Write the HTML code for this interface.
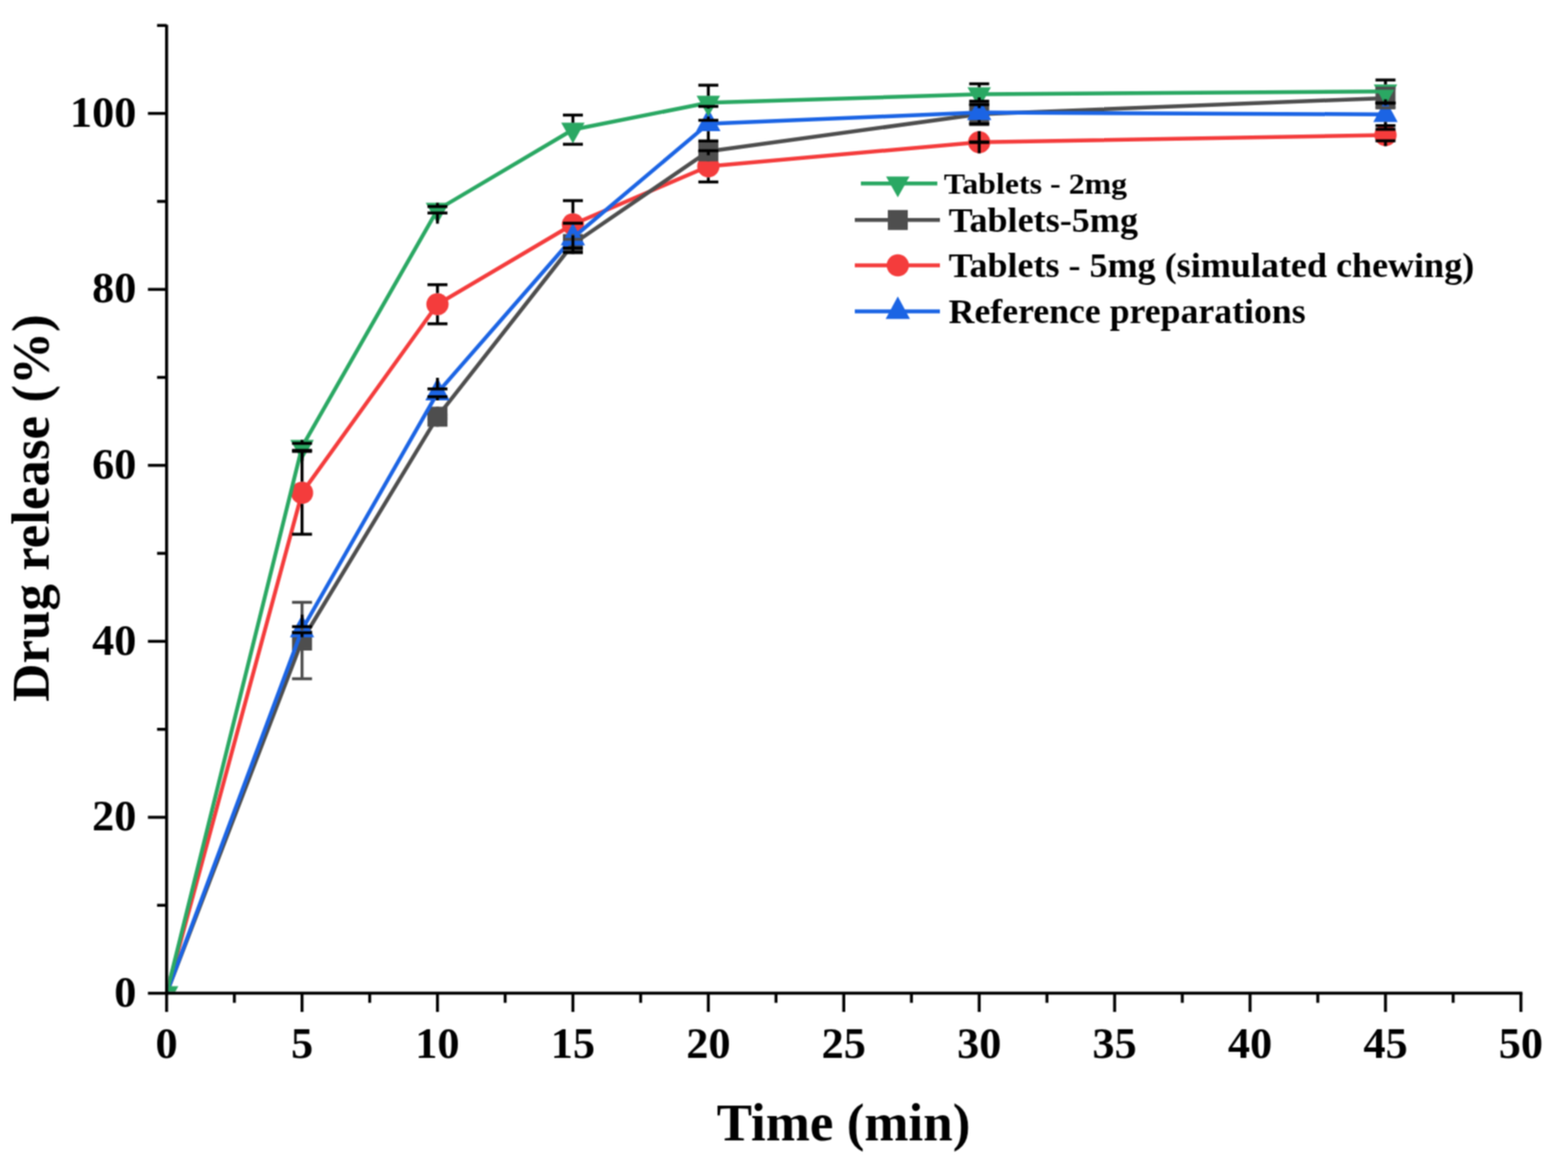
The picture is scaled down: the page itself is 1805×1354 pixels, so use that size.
<!DOCTYPE html>
<html><head><meta charset="utf-8"><title>Drug release</title>
<style>
html,body{margin:0;padding:0;background:#fff;}
svg{display:block;}
text{font-family:"Liberation Serif","Times New Roman",serif;font-weight:bold;fill:#000;}
</style></head>
<body>
<svg width="1805" height="1354" viewBox="0 0 1805 1354">
<defs><filter id="soft" x="0" y="0" width="1805" height="1354" filterUnits="userSpaceOnUse" color-interpolation-filters="sRGB"><feConvolveMatrix order="3" kernelMatrix="1 2 1 2 4 2 1 2 1" divisor="16" edgeMode="duplicate"/></filter><clipPath id="pc"><rect x="193.6" y="0" width="1600" height="1141.8"/></clipPath></defs>
<g filter="url(#soft)">
<rect width="1805" height="1354" fill="#fff"/>
<polyline points="191.8,1143.6 347.7,567.4 503.6,350.3 659.5,258.3 815.4,191.5 1127.2,163.7 1594.9,155.5" fill="none" stroke="#f43c3c" stroke-width="4.5" stroke-linejoin="round" clip-path="url(#pc)"/>
<circle cx="347.7" cy="567.4" r="12.8" fill="#f43c3c"/>
<circle cx="503.6" cy="350.3" r="12.8" fill="#f43c3c"/>
<circle cx="659.5" cy="258.3" r="12.8" fill="#f43c3c"/>
<circle cx="815.4" cy="191.5" r="12.8" fill="#f43c3c"/>
<circle cx="1127.2" cy="163.7" r="12.8" fill="#f43c3c"/>
<circle cx="1594.9" cy="155.5" r="12.8" fill="#f43c3c"/>
<polyline points="191.8,1143.6 347.7,737.5 503.6,479.8 659.5,281.0 815.4,174.2 1127.2,131.5 1594.9,112.9" fill="none" stroke="#4e4e4e" stroke-width="4.5" stroke-linejoin="round" clip-path="url(#pc)"/>
<rect x="336.2" y="726.0" width="23.0" height="23.0" fill="#4e4e4e"/>
<rect x="492.1" y="468.3" width="23.0" height="23.0" fill="#4e4e4e"/>
<rect x="648.0" y="269.5" width="23.0" height="23.0" fill="#4e4e4e"/>
<rect x="803.9" y="162.7" width="23.0" height="23.0" fill="#4e4e4e"/>
<rect x="1115.7" y="120.0" width="23.0" height="23.0" fill="#4e4e4e"/>
<rect x="1583.4" y="101.4" width="23.0" height="23.0" fill="#4e4e4e"/>
<polyline points="191.8,1143.6 347.7,725.0 503.6,452.3 659.5,273.8 815.4,142.4 1127.2,129.5 1594.9,131.7" fill="none" stroke="#1b64e4" stroke-width="4.5" stroke-linejoin="round" clip-path="url(#pc)"/>
<polygon points="347.7,707.7 361.7,733.7 333.7,733.7" fill="#1b64e4"/>
<polygon points="503.6,435.0 517.6,461.0 489.6,461.0" fill="#1b64e4"/>
<polygon points="659.5,256.5 673.5,282.5 645.5,282.5" fill="#1b64e4"/>
<polygon points="815.4,125.1 829.4,151.1 801.4,151.1" fill="#1b64e4"/>
<polygon points="1127.2,112.2 1141.2,138.2 1113.2,138.2" fill="#1b64e4"/>
<polygon points="1594.9,114.4 1608.9,140.4 1580.9,140.4" fill="#1b64e4"/>
<polyline points="191.8,1143.6 347.7,514.5 503.6,241.5 659.5,149.3 815.4,118.3 1127.2,108.5 1594.9,105.3" fill="none" stroke="#2aa863" stroke-width="4.5" stroke-linejoin="round" clip-path="url(#pc)"/>
<g clip-path="url(#pc)"><polygon points="178.3,1135.6 205.3,1135.6 191.8,1159.6" fill="#2aa863"/></g>
<polygon points="334.2,506.5 361.2,506.5 347.7,530.5" fill="#2aa863"/>
<polygon points="490.1,233.5 517.1,233.5 503.6,257.5" fill="#2aa863"/>
<polygon points="646.0,141.3 673.0,141.3 659.5,165.3" fill="#2aa863"/>
<polygon points="801.9,110.3 828.9,110.3 815.4,134.3" fill="#2aa863"/>
<polygon points="1113.7,100.5 1140.7,100.5 1127.2,124.5" fill="#2aa863"/>
<polygon points="1581.4,97.3 1608.4,97.3 1594.9,121.3" fill="#2aa863"/>
<line x1="347.7" y1="693.5" x2="347.7" y2="726.0" stroke="#4e4e4e" stroke-width="3.4"/><line x1="347.7" y1="749.0" x2="347.7" y2="781.5" stroke="#4e4e4e" stroke-width="3.4"/><line x1="336.2" y1="693.5" x2="359.2" y2="693.5" stroke="#4e4e4e" stroke-width="3.4"/><line x1="336.2" y1="781.5" x2="359.2" y2="781.5" stroke="#4e4e4e" stroke-width="3.4"/>
<line x1="503.6" y1="477.8" x2="503.6" y2="468.3" stroke="#4e4e4e" stroke-width="3.4"/><line x1="503.6" y1="491.3" x2="503.6" y2="481.8" stroke="#4e4e4e" stroke-width="3.4"/><line x1="492.1" y1="477.8" x2="515.1" y2="477.8" stroke="#4e4e4e" stroke-width="3.4"/><line x1="492.1" y1="481.8" x2="515.1" y2="481.8" stroke="#4e4e4e" stroke-width="3.4"/>
<line x1="659.5" y1="275.5" x2="659.5" y2="269.5" stroke="#4e4e4e" stroke-width="3.4"/><line x1="659.5" y1="292.5" x2="659.5" y2="286.5" stroke="#4e4e4e" stroke-width="3.4"/><line x1="648.0" y1="275.5" x2="671.0" y2="275.5" stroke="#4e4e4e" stroke-width="3.4"/><line x1="648.0" y1="286.5" x2="671.0" y2="286.5" stroke="#4e4e4e" stroke-width="3.4"/>
<line x1="815.4" y1="173.9" x2="815.4" y2="162.7" stroke="#4e4e4e" stroke-width="3.4"/><line x1="815.4" y1="185.7" x2="815.4" y2="174.5" stroke="#4e4e4e" stroke-width="3.4"/><line x1="803.9" y1="173.9" x2="826.9" y2="173.9" stroke="#4e4e4e" stroke-width="3.4"/><line x1="803.9" y1="174.5" x2="826.9" y2="174.5" stroke="#4e4e4e" stroke-width="3.4"/>
<line x1="1127.2" y1="119.5" x2="1127.2" y2="120.0" stroke="#4e4e4e" stroke-width="3.4"/><line x1="1127.2" y1="143.0" x2="1127.2" y2="143.5" stroke="#4e4e4e" stroke-width="3.4"/><line x1="1115.7" y1="119.5" x2="1138.7" y2="119.5" stroke="#4e4e4e" stroke-width="3.4"/><line x1="1115.7" y1="143.5" x2="1138.7" y2="143.5" stroke="#4e4e4e" stroke-width="3.4"/>
<line x1="1594.9" y1="101.6" x2="1594.9" y2="101.4" stroke="#4e4e4e" stroke-width="3.4"/><line x1="1594.9" y1="124.4" x2="1594.9" y2="124.2" stroke="#4e4e4e" stroke-width="3.4"/><line x1="1583.4" y1="101.6" x2="1606.4" y2="101.6" stroke="#4e4e4e" stroke-width="3.4"/><line x1="1583.4" y1="124.2" x2="1606.4" y2="124.2" stroke="#4e4e4e" stroke-width="3.4"/>
<line x1="347.7" y1="519.7" x2="347.7" y2="554.6" stroke="#000" stroke-width="3.4"/><line x1="347.7" y1="580.2" x2="347.7" y2="615.1" stroke="#000" stroke-width="3.4"/><line x1="336.2" y1="519.7" x2="359.2" y2="519.7" stroke="#000" stroke-width="3.4"/><line x1="336.2" y1="615.1" x2="359.2" y2="615.1" stroke="#000" stroke-width="3.4"/>
<line x1="503.6" y1="327.8" x2="503.6" y2="337.5" stroke="#000" stroke-width="3.4"/><line x1="503.6" y1="363.1" x2="503.6" y2="372.8" stroke="#000" stroke-width="3.4"/><line x1="492.1" y1="327.8" x2="515.1" y2="327.8" stroke="#000" stroke-width="3.4"/><line x1="492.1" y1="372.8" x2="515.1" y2="372.8" stroke="#000" stroke-width="3.4"/>
<line x1="659.5" y1="231.0" x2="659.5" y2="245.5" stroke="#000" stroke-width="3.4"/><line x1="659.5" y1="271.1" x2="659.5" y2="285.6" stroke="#000" stroke-width="3.4"/><line x1="648.0" y1="231.0" x2="671.0" y2="231.0" stroke="#000" stroke-width="3.4"/><line x1="648.0" y1="285.6" x2="671.0" y2="285.6" stroke="#000" stroke-width="3.4"/>
<line x1="815.4" y1="173.5" x2="815.4" y2="178.7" stroke="#000" stroke-width="3.4"/><line x1="815.4" y1="204.3" x2="815.4" y2="209.5" stroke="#000" stroke-width="3.4"/><line x1="803.9" y1="173.5" x2="826.9" y2="173.5" stroke="#000" stroke-width="3.4"/><line x1="803.9" y1="209.5" x2="826.9" y2="209.5" stroke="#000" stroke-width="3.4"/>
<line x1="1127.2" y1="163.4" x2="1127.2" y2="150.9" stroke="#000" stroke-width="3.4"/><line x1="1127.2" y1="176.5" x2="1127.2" y2="164.0" stroke="#000" stroke-width="3.4"/><line x1="1115.7" y1="163.4" x2="1138.7" y2="163.4" stroke="#000" stroke-width="3.4"/><line x1="1115.7" y1="164.0" x2="1138.7" y2="164.0" stroke="#000" stroke-width="3.4"/>
<line x1="1594.9" y1="148.9" x2="1594.9" y2="142.7" stroke="#000" stroke-width="3.4"/><line x1="1594.9" y1="168.3" x2="1594.9" y2="162.1" stroke="#000" stroke-width="3.4"/><line x1="1583.4" y1="148.9" x2="1606.4" y2="148.9" stroke="#000" stroke-width="3.4"/><line x1="1583.4" y1="162.1" x2="1606.4" y2="162.1" stroke="#000" stroke-width="3.4"/>
<line x1="347.7" y1="721.5" x2="347.7" y2="707.7" stroke="#000" stroke-width="3.4"/><line x1="347.7" y1="733.7" x2="347.7" y2="728.5" stroke="#000" stroke-width="3.4"/><line x1="336.2" y1="721.5" x2="359.2" y2="721.5" stroke="#000" stroke-width="3.4"/><line x1="336.2" y1="728.5" x2="359.2" y2="728.5" stroke="#000" stroke-width="3.4"/>
<line x1="503.6" y1="447.8" x2="503.6" y2="435.0" stroke="#000" stroke-width="3.4"/><line x1="503.6" y1="461.0" x2="503.6" y2="456.8" stroke="#000" stroke-width="3.4"/><line x1="492.1" y1="447.8" x2="515.1" y2="447.8" stroke="#000" stroke-width="3.4"/><line x1="492.1" y1="456.8" x2="515.1" y2="456.8" stroke="#000" stroke-width="3.4"/>
<line x1="659.5" y1="257.0" x2="659.5" y2="256.5" stroke="#000" stroke-width="3.4"/><line x1="659.5" y1="282.5" x2="659.5" y2="290.6" stroke="#000" stroke-width="3.4"/><line x1="648.0" y1="257.0" x2="671.0" y2="257.0" stroke="#000" stroke-width="3.4"/><line x1="648.0" y1="290.6" x2="671.0" y2="290.6" stroke="#000" stroke-width="3.4"/>
<line x1="815.4" y1="122.5" x2="815.4" y2="125.1" stroke="#000" stroke-width="3.4"/><line x1="815.4" y1="151.1" x2="815.4" y2="162.3" stroke="#000" stroke-width="3.4"/><line x1="803.9" y1="122.5" x2="826.9" y2="122.5" stroke="#000" stroke-width="3.4"/><line x1="803.9" y1="162.3" x2="826.9" y2="162.3" stroke="#000" stroke-width="3.4"/>
<line x1="1127.2" y1="116.5" x2="1127.2" y2="112.2" stroke="#000" stroke-width="3.4"/><line x1="1127.2" y1="138.2" x2="1127.2" y2="142.5" stroke="#000" stroke-width="3.4"/><line x1="1115.7" y1="116.5" x2="1138.7" y2="116.5" stroke="#000" stroke-width="3.4"/><line x1="1115.7" y1="142.5" x2="1138.7" y2="142.5" stroke="#000" stroke-width="3.4"/>
<line x1="1594.9" y1="118.7" x2="1594.9" y2="114.4" stroke="#000" stroke-width="3.4"/><line x1="1594.9" y1="140.4" x2="1594.9" y2="144.7" stroke="#000" stroke-width="3.4"/><line x1="1583.4" y1="118.7" x2="1606.4" y2="118.7" stroke="#000" stroke-width="3.4"/><line x1="1583.4" y1="144.7" x2="1606.4" y2="144.7" stroke="#000" stroke-width="3.4"/>
<line x1="347.7" y1="510.5" x2="347.7" y2="506.5" stroke="#000" stroke-width="3.4"/><line x1="347.7" y1="530.5" x2="347.7" y2="518.5" stroke="#000" stroke-width="3.4"/><line x1="336.2" y1="510.5" x2="359.2" y2="510.5" stroke="#000" stroke-width="3.4"/><line x1="336.2" y1="518.5" x2="359.2" y2="518.5" stroke="#000" stroke-width="3.4"/>
<line x1="503.6" y1="237.8" x2="503.6" y2="233.5" stroke="#000" stroke-width="3.4"/><line x1="503.6" y1="257.5" x2="503.6" y2="245.2" stroke="#000" stroke-width="3.4"/><line x1="492.1" y1="237.8" x2="515.1" y2="237.8" stroke="#000" stroke-width="3.4"/><line x1="492.1" y1="245.2" x2="515.1" y2="245.2" stroke="#000" stroke-width="3.4"/>
<line x1="659.5" y1="132.5" x2="659.5" y2="141.3" stroke="#000" stroke-width="3.4"/><line x1="659.5" y1="165.3" x2="659.5" y2="166.1" stroke="#000" stroke-width="3.4"/><line x1="648.0" y1="132.5" x2="671.0" y2="132.5" stroke="#000" stroke-width="3.4"/><line x1="648.0" y1="166.1" x2="671.0" y2="166.1" stroke="#000" stroke-width="3.4"/>
<line x1="815.4" y1="98.1" x2="815.4" y2="110.3" stroke="#000" stroke-width="3.4"/><line x1="815.4" y1="134.3" x2="815.4" y2="138.5" stroke="#000" stroke-width="3.4"/><line x1="803.9" y1="98.1" x2="826.9" y2="98.1" stroke="#000" stroke-width="3.4"/><line x1="803.9" y1="138.5" x2="826.9" y2="138.5" stroke="#000" stroke-width="3.4"/>
<line x1="1127.2" y1="96.5" x2="1127.2" y2="100.5" stroke="#000" stroke-width="3.4"/><line x1="1127.2" y1="124.5" x2="1127.2" y2="120.5" stroke="#000" stroke-width="3.4"/><line x1="1115.7" y1="96.5" x2="1138.7" y2="96.5" stroke="#000" stroke-width="3.4"/><line x1="1115.7" y1="120.5" x2="1138.7" y2="120.5" stroke="#000" stroke-width="3.4"/>
<line x1="1594.9" y1="92.1" x2="1594.9" y2="97.3" stroke="#000" stroke-width="3.4"/><line x1="1594.9" y1="121.3" x2="1594.9" y2="118.5" stroke="#000" stroke-width="3.4"/><line x1="1583.4" y1="92.1" x2="1606.4" y2="92.1" stroke="#000" stroke-width="3.4"/><line x1="1583.4" y1="118.5" x2="1606.4" y2="118.5" stroke="#000" stroke-width="3.4"/>
<line x1="191.8" y1="28.5" x2="191.8" y2="1145.3" stroke="#000" stroke-width="3.5"/>
<line x1="190.1" y1="1143.6" x2="1752.5" y2="1143.6" stroke="#000" stroke-width="3.5"/>
<line x1="170.3" y1="1143.6" x2="191.8" y2="1143.6" stroke="#000" stroke-width="3.4"/>
<line x1="180.8" y1="1042.3" x2="191.8" y2="1042.3" stroke="#000" stroke-width="3.4"/>
<line x1="170.3" y1="941.0" x2="191.8" y2="941.0" stroke="#000" stroke-width="3.4"/>
<line x1="180.8" y1="839.7" x2="191.8" y2="839.7" stroke="#000" stroke-width="3.4"/>
<line x1="170.3" y1="738.4" x2="191.8" y2="738.4" stroke="#000" stroke-width="3.4"/>
<line x1="180.8" y1="637.1" x2="191.8" y2="637.1" stroke="#000" stroke-width="3.4"/>
<line x1="170.3" y1="535.8" x2="191.8" y2="535.8" stroke="#000" stroke-width="3.4"/>
<line x1="180.8" y1="434.5" x2="191.8" y2="434.5" stroke="#000" stroke-width="3.4"/>
<line x1="170.3" y1="333.2" x2="191.8" y2="333.2" stroke="#000" stroke-width="3.4"/>
<line x1="180.8" y1="231.9" x2="191.8" y2="231.9" stroke="#000" stroke-width="3.4"/>
<line x1="170.3" y1="130.6" x2="191.8" y2="130.6" stroke="#000" stroke-width="3.4"/>
<line x1="180.8" y1="29.3" x2="191.8" y2="29.3" stroke="#000" stroke-width="3.4"/>
<line x1="191.8" y1="1143.6" x2="191.8" y2="1165.1" stroke="#000" stroke-width="3.4"/>
<line x1="347.7" y1="1143.6" x2="347.7" y2="1165.1" stroke="#000" stroke-width="3.4"/>
<line x1="503.6" y1="1143.6" x2="503.6" y2="1165.1" stroke="#000" stroke-width="3.4"/>
<line x1="659.5" y1="1143.6" x2="659.5" y2="1165.1" stroke="#000" stroke-width="3.4"/>
<line x1="815.4" y1="1143.6" x2="815.4" y2="1165.1" stroke="#000" stroke-width="3.4"/>
<line x1="971.3" y1="1143.6" x2="971.3" y2="1165.1" stroke="#000" stroke-width="3.4"/>
<line x1="1127.2" y1="1143.6" x2="1127.2" y2="1165.1" stroke="#000" stroke-width="3.4"/>
<line x1="1283.1" y1="1143.6" x2="1283.1" y2="1165.1" stroke="#000" stroke-width="3.4"/>
<line x1="1439.0" y1="1143.6" x2="1439.0" y2="1165.1" stroke="#000" stroke-width="3.4"/>
<line x1="1594.9" y1="1143.6" x2="1594.9" y2="1165.1" stroke="#000" stroke-width="3.4"/>
<line x1="1750.8" y1="1143.6" x2="1750.8" y2="1165.1" stroke="#000" stroke-width="3.4"/>
<line x1="269.8" y1="1143.6" x2="269.8" y2="1154.6" stroke="#000" stroke-width="3.4"/>
<line x1="425.6" y1="1143.6" x2="425.6" y2="1154.6" stroke="#000" stroke-width="3.4"/>
<line x1="581.5" y1="1143.6" x2="581.5" y2="1154.6" stroke="#000" stroke-width="3.4"/>
<line x1="737.5" y1="1143.6" x2="737.5" y2="1154.6" stroke="#000" stroke-width="3.4"/>
<line x1="893.3" y1="1143.6" x2="893.3" y2="1154.6" stroke="#000" stroke-width="3.4"/>
<line x1="1049.2" y1="1143.6" x2="1049.2" y2="1154.6" stroke="#000" stroke-width="3.4"/>
<line x1="1205.2" y1="1143.6" x2="1205.2" y2="1154.6" stroke="#000" stroke-width="3.4"/>
<line x1="1361.0" y1="1143.6" x2="1361.0" y2="1154.6" stroke="#000" stroke-width="3.4"/>
<line x1="1517.0" y1="1143.6" x2="1517.0" y2="1154.6" stroke="#000" stroke-width="3.4"/>
<line x1="1672.8" y1="1143.6" x2="1672.8" y2="1154.6" stroke="#000" stroke-width="3.4"/>
<text x="157" y="1158.8" text-anchor="end" font-size="51">0</text>
<text x="157" y="956.2" text-anchor="end" font-size="51">20</text>
<text x="157" y="753.6" text-anchor="end" font-size="51">40</text>
<text x="157" y="551.0" text-anchor="end" font-size="51">60</text>
<text x="157" y="348.4" text-anchor="end" font-size="51">80</text>
<text x="157" y="145.8" text-anchor="end" font-size="51">100</text>
<text x="191.8" y="1217.8" text-anchor="middle" font-size="51">0</text>
<text x="347.7" y="1217.8" text-anchor="middle" font-size="51">5</text>
<text x="503.6" y="1217.8" text-anchor="middle" font-size="51">10</text>
<text x="659.5" y="1217.8" text-anchor="middle" font-size="51">15</text>
<text x="815.4" y="1217.8" text-anchor="middle" font-size="51">20</text>
<text x="971.3" y="1217.8" text-anchor="middle" font-size="51">25</text>
<text x="1127.2" y="1217.8" text-anchor="middle" font-size="51">30</text>
<text x="1283.1" y="1217.8" text-anchor="middle" font-size="51">35</text>
<text x="1439.0" y="1217.8" text-anchor="middle" font-size="51">40</text>
<text x="1594.9" y="1217.8" text-anchor="middle" font-size="51">45</text>
<text x="1750.8" y="1217.8" text-anchor="middle" font-size="51">50</text>
<text x="971" y="1312.7" text-anchor="middle" font-size="61">Time (min)</text>
<text transform="translate(56,585) rotate(-90)" text-anchor="middle" font-size="61">Drug release (%)</text>
<line x1="991" y1="211.2" x2="1079" y2="211.2" stroke="#2aa863" stroke-width="4.5"/><polygon points="1020.0,203.2 1047.0,203.2 1033.5,227.2" fill="#2aa863"/><text x="1086.5" y="223.3" font-size="34.5" textLength="211" lengthAdjust="spacingAndGlyphs">Tablets - 2mg</text>
<line x1="984" y1="253.3" x2="1082" y2="253.3" stroke="#4e4e4e" stroke-width="4.5"/><rect x="1022.0" y="241.8" width="23.0" height="23.0" fill="#4e4e4e"/><text x="1092" y="267.0" font-size="41" textLength="218" lengthAdjust="spacingAndGlyphs">Tablets-5mg</text>
<line x1="984" y1="305.5" x2="1082" y2="305.5" stroke="#f43c3c" stroke-width="4.5"/><circle cx="1033.5" cy="305.5" r="12.8" fill="#f43c3c"/><text x="1092" y="319" font-size="41" textLength="605" lengthAdjust="spacingAndGlyphs">Tablets - 5mg (simulated chewing)</text>
<line x1="984" y1="358.5" x2="1082" y2="358.5" stroke="#1b64e4" stroke-width="4.5"/><polygon points="1033.5,341.2 1047.5,367.2 1019.5,367.2" fill="#1b64e4"/><text x="1092" y="372.3" font-size="41" textLength="411" lengthAdjust="spacingAndGlyphs">Reference preparations</text>
</g>
</svg>
</body></html>
